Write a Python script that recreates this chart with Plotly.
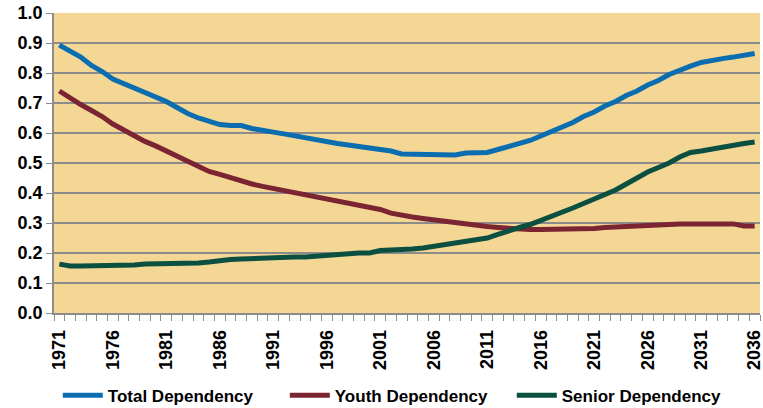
import plotly.graph_objects as go

years = list(range(1971, 2037))

total = [0.893, 0.875, 0.853, 0.825, 0.805, 0.78, 0.765, 0.75, 0.735, 0.72,
         0.705, 0.685, 0.665, 0.65, 0.64, 0.628, 0.625, 0.625, 0.615, 0.607,
         0.603, 0.597, 0.59, 0.585, 0.578, 0.57, 0.565, 0.56, 0.555, 0.55,
         0.545, 0.54, 0.53, 0.53, 0.527, 0.527, 0.527, 0.527, 0.533, 0.533,
         0.535, 0.545, 0.555, 0.565, 0.575, 0.59, 0.605, 0.62, 0.635, 0.655,
         0.67, 0.69, 0.705, 0.725, 0.74, 0.76, 0.775, 0.795, 0.81, 0.823,
         0.835, 0.843, 0.848, 0.853, 0.858, 0.865]

youth = [0.74, 0.715, 0.695, 0.675, 0.655, 0.63, 0.61, 0.59, 0.572, 0.557,
         0.54, 0.52, 0.502, 0.485, 0.472, 0.462, 0.45, 0.44, 0.43, 0.422,
         0.415, 0.408, 0.4, 0.393, 0.388, 0.378, 0.372, 0.367, 0.36, 0.352,
         0.345, 0.333, 0.325, 0.32, 0.315, 0.31, 0.305, 0.3, 0.295, 0.29,
         0.288, 0.285, 0.282, 0.28, 0.278, 0.278, 0.278, 0.278, 0.28, 0.28,
         0.282, 0.285, 0.287, 0.29, 0.29, 0.293, 0.295, 0.297, 0.297, 0.297,
         0.297, 0.297, 0.297, 0.297, 0.29, 0.29]

senior = [0.163, 0.157, 0.157, 0.157, 0.157, 0.157, 0.157, 0.16, 0.163, 0.163,
          0.163, 0.167, 0.167, 0.167, 0.17, 0.175, 0.178, 0.18, 0.182, 0.185,
          0.187, 0.187, 0.187, 0.187, 0.19, 0.193, 0.195, 0.197, 0.2, 0.2,
          0.208, 0.21, 0.21, 0.213, 0.217, 0.222, 0.227, 0.232, 0.237, 0.242,
          0.25, 0.262, 0.275, 0.285, 0.295, 0.308, 0.32, 0.335, 0.35, 0.365,
          0.38, 0.395, 0.41, 0.43, 0.45, 0.47, 0.485, 0.5, 0.52, 0.535,
          0.54, 0.547, 0.555, 0.56, 0.565, 0.57]

label_years = list(range(1971, 2037, 5))

series = [("Total Dependency", total, "#0A6DB0"),
          ("Youth Dependency", youth, "#7B2432"),
          ("Senior Dependency", senior, "#0B4F40")]

FONT = "Liberation Sans, Arial, sans-serif"

fig = go.Figure()
for name, vals, col in series:
    fig.add_trace(go.Scatter(x=years, y=vals, name=name, mode="lines",
                             line=dict(color=col, width=5)))

fig.update_layout(
    width=763, height=408,
    margin=dict(l=54, r=3, t=13, b=95),
    plot_bgcolor="#F4D794",
    paper_bgcolor="white",
    font=dict(family=FONT, size=15, color="black"),
    showlegend=True,
    legend=dict(orientation="h", xref="container", yref="container",
                x=0.522, xanchor="center", y=0.03, yanchor="middle",
                font=dict(family=FONT, size=17, color="black", weight="bold"),
                itemwidth=40, entrywidth=172, tracegroupgap=0,
                bgcolor="rgba(0,0,0,0)"),
)

fig.update_xaxes(
    range=[1970.5, 2036.5],
    tickmode="array", tickvals=label_years,
    ticktext=[str(y) for y in label_years],
    tickangle=-90, ticks="", ticklabelstandoff=8,
    ticklabeloverflow="allow",
    tickfont=dict(family=FONT, size=18, weight="bold"),
    showgrid=False, zeroline=False, automargin=False,
    showline=True, linecolor="#8C8C8C", linewidth=1.5,
    minor=dict(ticks="outside", tick0=1970.5, dtick=1, ticklen=6,
               tickcolor="#8C8C8C", showgrid=False),
)

fig.update_yaxes(
    range=[0, 1.0],
    tickmode="array", tickvals=[i / 10 for i in range(11)],
    ticktext=["%.1f" % (i / 10) for i in range(11)],
    tickfont=dict(family=FONT, size=18, weight="bold"),
    ticks="outside", ticklen=6, tickcolor="#8C8C8C",
    showgrid=True, gridcolor="#8C8C8C", gridwidth=1.5,
    zeroline=False, automargin=False,
    showline=True, linecolor="#8C8C8C", linewidth=1.5,
)

# page body has a default 8px margin; remove it so the figure fills the window
fig.write_html("out.html", config={"displayModeBar": False},
               post_script="document.body.style.margin='0';")
